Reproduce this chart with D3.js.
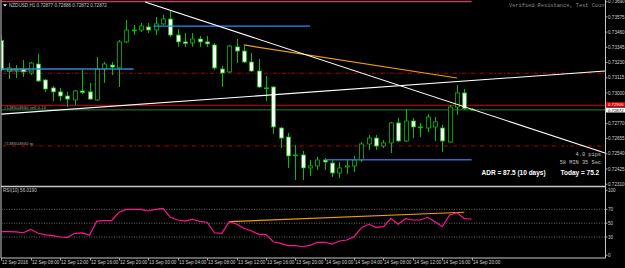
<!DOCTYPE html>
<html>
<head>
<meta charset="utf-8">
<script src="https://cdn.jsdelivr.net/npm/d3@7"></script>
<style>
body{margin:0;background:#000;}
svg{display:block;}
text{font-family:"Liberation Sans",Arial,sans-serif;}
.mono{font-family:"Liberation Mono","DejaVu Sans Mono",monospace;}
</style>
</head>
<body>
<svg width="625" height="268"></svg>
<script>
// NZDUSD H1 bars, first bar = 12 Sep 04:00
var opens = [0.73396,0.73166,0.73174,0.73181,0.73151,0.73219,0.73098,0.73038,0.73008,0.72977,
0.72947,0.73015,0.73008,0.72947,0.73181,0.73211,0.73189,0.73386,0.73472,0.73476,
0.73499,0.73476,0.73522,0.73559,0.73438,0.73386,0.73378,0.73408,0.73386,0.73363,
0.73181,0.73159,0.73348,0.73317,0.73234,0.73166,0.73038,0.73045,0.72735,0.72667,
0.72531,0.72531,0.72433,0.72448,0.72493,0.72470,0.72395,0.72440,0.72448,0.72493,
0.72614,0.72659,0.72599,0.72622,0.72773,0.72637,0.72788,0.72743,0.72735,0.72743,
0.72735,0.72629,0.72894,0.73000,0.72877];
var highs = [0.73438,0.73226,0.73211,0.73249,0.73234,0.73295,0.73106,0.73053,0.73038,0.73008,
0.73023,0.73174,0.73076,0.73272,0.73234,0.73234,0.73401,0.73552,0.73514,0.73529,
0.73529,0.73574,0.73590,0.73620,0.73484,0.73453,0.73453,0.73431,0.73431,0.73378,
0.73204,0.73363,0.73408,0.73355,0.73302,0.73257,0.73128,0.73053,0.72743,0.72697,
0.72607,0.72561,0.72493,0.72516,0.72508,0.72493,0.72478,0.72493,0.72524,0.72629,
0.72682,0.72682,0.72644,0.72781,0.72811,0.72879,0.72811,0.72773,0.72841,0.72818,
0.72758,0.72909,0.73060,0.73030,0.72886];
var lows = [0.73166,0.73106,0.73113,0.73121,0.73136,0.73083,0.73008,0.72939,0.72939,0.72894,
0.72909,0.72992,0.72947,0.72939,0.73076,0.73136,0.73045,0.73378,0.73438,0.73461,
0.73453,0.73438,0.73514,0.73423,0.73348,0.73348,0.73348,0.73348,0.73348,0.73174,
0.73045,0.73151,0.73226,0.73226,0.73159,0.73038,0.72939,0.72690,0.72584,0.72433,
0.72342,0.72342,0.72372,0.72418,0.72418,0.72365,0.72357,0.72388,0.72403,0.72478,
0.72569,0.72569,0.72584,0.72546,0.72629,0.72629,0.72659,0.72667,0.72705,0.72637,
0.72554,0.72622,0.72833,0.72871,0.72872];
var closes = [0.73174,0.73189,0.73181,0.73159,0.73226,0.73091,0.73030,0.73008,0.72977,0.72954,
0.73015,0.73004,0.72954,0.73181,0.73219,0.73196,0.73386,0.73476,0.73476,0.73506,
0.73476,0.73522,0.73559,0.73438,0.73386,0.73374,0.73408,0.73386,0.73371,0.73189,
0.73151,0.73355,0.73317,0.73234,0.73166,0.73045,0.73034,0.72743,0.72659,0.72524,
0.72527,0.72433,0.72448,0.72493,0.72478,0.72395,0.72433,0.72448,0.72493,0.72614,
0.72659,0.72599,0.72622,0.72773,0.72637,0.72788,0.72743,0.72739,0.72818,0.72781,
0.72637,0.72894,0.73000,0.72883,0.72872];
var rsi = [37.7,37.7,37.5,36.2,41.1,35.4,33.0,32.0,30.0,29.6,
35.4,36.0,32.9,53.1,53.6,53.6,65.7,70.0,70.0,70.0,
67.6,70.0,71.5,58.5,54.6,53.1,55.6,52.6,51.3,36.2,
35.4,52.1,48.8,42.6,39.1,33.9,33.9,23.2,20.9,17.5,
17.5,16.0,18.0,22.4,22.4,19.9,24.3,25.7,30.5,43.5,
48.4,44.0,44.9,57.0,48.4,56.5,54.6,54.6,58.5,52.1,
44.9,61.8,65.1,56.5,56.019];

var priceTicks = [0.73690,0.73575,0.73460,0.73345,0.73230,0.73115,0.73000,0.72885,0.72770,0.72655,0.72540,0.72425,0.72310];
var rsiTicks = [100,70,50,30,0];
var rsiLevels = [70,50,30];
var timeBars = [0,4,8,12,16,20,24,28,32,36,40,44,48,52,56,60,64];
var timeLabels = ["12 Sep 2016","12 Sep 08:00","12 Sep 12:00","12 Sep 16:00","12 Sep 20:00","13 Sep 00:00",
"13 Sep 04:00","13 Sep 08:00","13 Sep 12:00","13 Sep 16:00","13 Sep 20:00","14 Sep 00:00",
"14 Sep 04:00","14 Sep 08:00","14 Sep 12:00","14 Sep 16:00","14 Sep 20:00"];

// chart objects as [bar, price] pairs
var trendDown = [[19.55,0.73688],[82.14,0.72546]];
var trendUp = [[-0.18,0.72839],[82.14,0.73166]];
var trendOrange = [[33,0.73363],[62,0.73113]];
var rsiOrange = [[31,52.1],[63,65.8]];
var topLine = [[-0.2,0.73692],[64,0.73692]];
var blueLevels = [
	{from:20.7, to:42, price:0.73506, color:"#1e90ff"},
	{from:-0.2, to:18, price:0.73181, color:"#2f86d6"},
	{from:44, to:64, price:0.72495, color:"#2a6cc4"}
];
var orderPrice = 0.72906;
var slPrice = 0.73149;
var tpPrice = 0.72599;
var bidPrice = 0.72872;

var svg = d3.select('svg');
var W = 605.5, mainBottom = 186.5, rsiBottom = 258;
var green = "#00c000";

var x = d3.scaleLinear().domain([0,64]).range([1.3,471.7]);
var y = d3.scaleLinear().domain([0.73690,0.72310]).range([1.7,184.2]);
var yr = d3.scaleLinear().domain([0,100]).range([257.8,188.55]);

svg.append('rect').attr('width',625).attr('height',268).attr('fill','#000');

var defs = svg.append('defs');
defs.append('clipPath').attr('id','cm').append('rect')
	.attr('x',1.5).attr('y',0).attr('width',W-1.5).attr('height',mainBottom);
defs.append('clipPath').attr('id','cr').append('rect')
	.attr('x',1.5).attr('y',mainBottom+1).attr('width',W-1.5).attr('height',rsiBottom-mainBottom-1);

var main = svg.append('g').attr('clip-path','url(#cm)');
var sub = svg.append('g').attr('clip-path','url(#cr)');

function seg(g, pts, sx, sy, color, w, dash){
	var l = g.append('line')
		.attr('x1',sx(pts[0][0])).attr('y1',sy(pts[0][1]))
		.attr('x2',sx(pts[1][0])).attr('y2',sy(pts[1][1]))
		.attr('stroke',color).attr('stroke-width',w);
	if(dash) l.attr('stroke-dasharray',dash);
	return l;
}

// order / bid lines behind the bars
seg(main, [[-1,bidPrice],[90,bidPrice]], x, y, "#2f7a2f", 1);
seg(main, [[-1,orderPrice],[90,orderPrice]], x, y, "#b00000", 1.2);
seg(main, [[-1,slPrice],[90,slPrice]], x, y, "#b00000", 1, "4,2,1,2");
seg(main, [[-1,tpPrice],[90,tpPrice]], x, y, "#b00000", 1, "4,2,1,2");

// candles
var idx = d3.range(opens.length);
main.selectAll('line.wick').data(idx).enter().append('line')
	.attr('class','wick')
	.attr('x1',function(i){return Math.round(x(i))+0.5;})
	.attr('x2',function(i){return Math.round(x(i))+0.5;})
	.attr('y1',function(i){return y(highs[i]);})
	.attr('y2',function(i){return y(lows[i]);})
	.attr('stroke',green).attr('stroke-width',1);
main.selectAll('rect.body').data(idx).enter().append('rect')
	.attr('class','body')
	.attr('x',function(i){return Math.round(x(i))-1.5;})
	.attr('width',4)
	.attr('y',function(i){return y(Math.max(opens[i],closes[i]));})
	.attr('height',function(i){return Math.max(0.8, Math.abs(y(opens[i])-y(closes[i])));})
	.attr('fill',function(i){return closes[i]>=opens[i] ? '#000' : '#fff';})
	.attr('stroke',green).attr('stroke-width',0.8);

// objects on top
seg(main, topLine, x, y, "#b04858", 1.5);
blueLevels.forEach(function(b){
	seg(main, [[b.from,b.price],[b.to,b.price]], x, y, b.color, 1.3);
});
seg(main, trendOrange, x, y, "#f0a000", 1.2);
seg(main, trendDown, x, y, "#ffffff", 1.1);
seg(main, trendUp, x, y, "#ffffff", 1.1);

// object labels
main.append('text').attr('x',4).attr('y',y(slPrice)-1.2).attr('font-size',4.4).attr('fill','#9aa0a8').text('#138504940 sl');
main.append('text').attr('x',4).attr('y',y(orderPrice)+3.6).attr('font-size',4.4).attr('fill','#9aa0a8').text('#138504940 sell 0.13');
main.append('text').attr('x',4).attr('y',y(tpPrice)-1.2).attr('font-size',4.4).attr('fill','#9aa0a8').text('#138504940 tp');

// header + indicator texts
main.append('path').attr('d','M3,4.2 L7,4.2 L5,6.6 Z').attr('fill','#fff');
main.append('text').attr('x',9).attr('y',6.8).attr('font-size',4.6).attr('fill','#c8c8c8')
	.text('NZDUSD,H1  ' + [opens[64],highs[64],lows[64],closes[64]].map(function(v){return v.toFixed(5);}).join(' '));
main.append('text').attr('class','mono').attr('x',509).attr('y',7.2).attr('font-size',5.3).attr('fill','#8c8c8c')
	.text('Verified Resistance, Test Count');
main.append('text').attr('class','mono').attr('x',601).attr('y',156.2).attr('font-size',5.3)
	.attr('text-anchor','end').attr('fill','#c8c8c8').text('4.0 pips');
main.append('text').attr('class','mono').attr('x',601).attr('y',164.2).attr('font-size',5.3)
	.attr('text-anchor','end').attr('fill','#c8c8c8').text('58 MIN 35 Sec');
main.append('text').attr('x',481.5).attr('y',175.2).attr('font-size',6.5).attr('font-weight','bold')
	.attr('fill','#fff').text('ADR = 87.5  (10 days)');
main.append('text').attr('x',560.5).attr('y',175.2).attr('font-size',6.5).attr('font-weight','bold')
	.attr('fill','#fff').text('Today = 75.2');

// RSI panel
rsiLevels.forEach(function(v){
	seg(sub, [[-1,v],[90,v]], x, yr, "#8a8a8a", 0.8, "1,1.5");
});
seg(sub, rsiOrange, x, yr, "#f0a000", 1.2);
sub.append('path').datum(rsi)
	.attr('d', d3.line().x(function(d,i){return x(i);}).y(function(d){return yr(d);}))
	.attr('fill','none').attr('stroke','#ff1493').attr('stroke-width',1.2);
sub.append('text').attr('x',3).attr('y',192.4).attr('font-size',4.6).attr('fill','#c8c8c8')
	.text('RSI(10) ' + rsi[rsi.length-1].toFixed(4));

// frame
var frame = svg.append('g').attr('stroke','#c8c8c8').attr('fill','none');
frame.append('line').attr('x1',1).attr('x2',1).attr('y1',0).attr('y2',rsiBottom);
frame.append('line').attr('x1',W).attr('x2',W).attr('y1',0).attr('y2',rsiBottom);
frame.append('line').attr('x1',1).attr('x2',W).attr('y1',mainBottom).attr('y2',mainBottom).attr('stroke-width',1.3);
frame.append('line').attr('x1',1).attr('x2',W).attr('y1',rsiBottom).attr('y2',rsiBottom);

// price axis
var pa = svg.append('g');
priceTicks.forEach(function(p){
	pa.append('line').attr('x1',W).attr('x2',W+2).attr('y1',y(p)).attr('y2',y(p)).attr('stroke','#c8c8c8').attr('stroke-width',0.8);
	if(Math.abs(y(p)-y(orderPrice))<5 || Math.abs(y(p)-y(bidPrice))<5) return; // hidden under price tags
	pa.append('text').attr('x',608).attr('y',y(p)+1.6).attr('font-size',4.6).attr('fill','#d0d0d0').text(p.toFixed(5));
});
// order and bid price tags
var oy = y(orderPrice)-0.9, by = y(bidPrice)+0.2;
pa.append('rect').attr('x',W+0.5).attr('y',oy-2.4).attr('width',20).attr('height',4.8).attr('fill','#e00000');
pa.append('text').attr('x',608).attr('y',oy+1.5).attr('font-size',4.3).attr('fill','#fff').text(orderPrice.toFixed(5));
pa.append('rect').attr('x',W+0.5).attr('y',by-2.4).attr('width',20).attr('height',4.8).attr('fill','#fff');
pa.append('text').attr('x',608).attr('y',by+1.5).attr('font-size',4.3).attr('fill','#000').text(bidPrice.toFixed(5));

// rsi axis
rsiTicks.forEach(function(v){
	var ty = Math.min(Math.max(yr(v),190.3),255.3);
	pa.append('line').attr('x1',W).attr('x2',W+2).attr('y1',ty).attr('y2',ty).attr('stroke','#c8c8c8').attr('stroke-width',0.8);
	pa.append('text').attr('x',608).attr('y',ty+1.6).attr('font-size',4.6).attr('fill','#d0d0d0').text(v);
});

// time axis
timeBars.forEach(function(b,k){
	var tx = Math.round(x(b))+0.5;
	pa.append('line').attr('x1',tx).attr('x2',tx).attr('y1',rsiBottom).attr('y2',rsiBottom+2.5).attr('stroke','#c8c8c8').attr('stroke-width',0.8);
	pa.append('text').attr('x',Math.max(tx+0.5,1.7)).attr('y',263.5).attr('font-size',4.6).attr('fill','#d0d0d0').text(timeLabels[k]);
});
</script>
</body>
</html>
